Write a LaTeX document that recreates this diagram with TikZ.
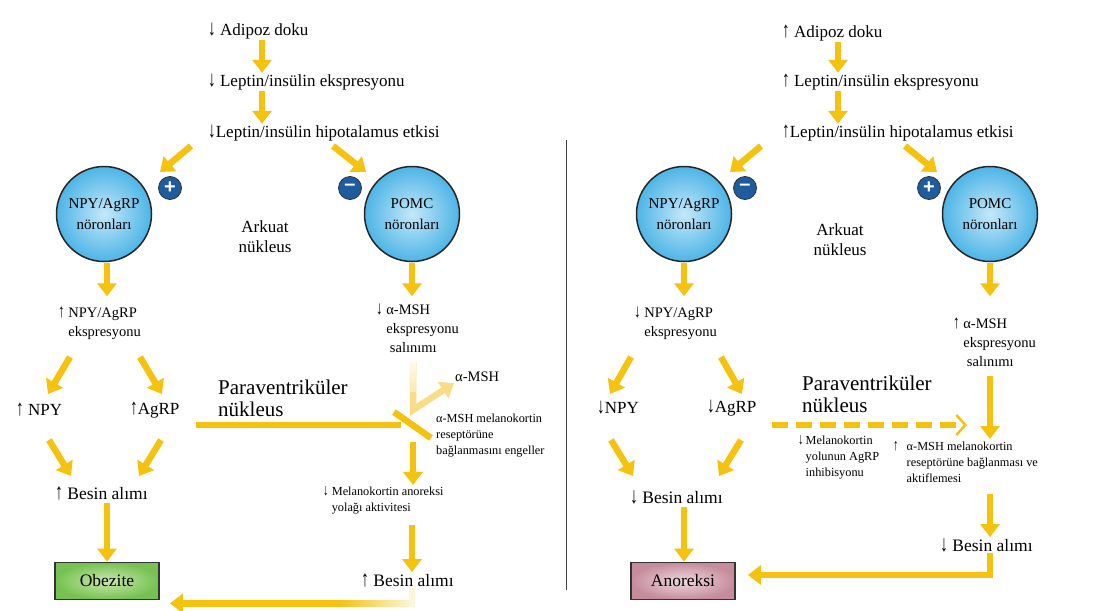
\documentclass[tikz,border=0pt]{standalone}
\usepackage{fontspec}
\setmainfont{Liberation Serif}
\newfontfamily\signfont{Liberation Sans}
\usetikzlibrary{arrows.meta,calc}
\definecolor{ylw}{HTML}{F4C20F}
\definecolor{ylwl}{HTML}{F8DC86}
\definecolor{dblue}{HTML}{1E5C9E}
\definecolor{cin}{HTML}{C4E8FA}
\definecolor{cout}{HTML}{4DB5E6}
\definecolor{gin}{HTML}{CBE8AC}
\definecolor{gout}{HTML}{76C152}
\definecolor{pin}{HTML}{EED8DE}
\definecolor{pout}{HTML}{C68C9C}
\newcommand{\dnA}{\scalebox{0.9}[1.3]{↓}}
\newcommand{\upA}{\scalebox{0.9}[1.3]{↑}}
\begin{document}
\begin{tikzpicture}[x=1pt,y=-1pt,
  txt/.style={font=\fontsize{17}{20}\selectfont, inner sep=1pt, anchor=west, align=left},
  btxt/.style={font=\fontsize{17.5}{21}\selectfont, inner sep=1pt, anchor=west, align=left},
  ptxt/.style={font=\fontsize{21}{22}\selectfont, inner sep=1pt, anchor=west, align=left},
  mtxt/.style={font=\fontsize{14.5}{19}\selectfont, inner sep=1pt, anchor=west, align=left},
  stxt/.style={font=\fontsize{12.3}{16}\selectfont, inner sep=1pt, anchor=north west, align=left},
  ya/.style={draw=ylw, line width=6.5pt, -{Triangle[width=19pt,length=13pt]}},
  yline/.style={draw=ylw, line width=6.5pt},
  neuron/.style={circle, draw=black!85, line width=1.5pt, minimum size=95pt, inner color=cin, outer color=cout, font=\fontsize{15}{21}\selectfont, align=center},
  sign/.style={circle, draw=black!80, line width=0.8pt, fill=dblue, minimum size=23pt, inner sep=0pt, text=white, font=\signfont\bfseries\fontsize{20}{20}\selectfont},
  outbox/.style={draw=black!80, line width=1.8pt, minimum width=104pt, minimum height=37pt, font=\fontsize{17.5}{20}\selectfont},
]
\useasboundingbox (0,0) rectangle (1099,610);
\fill[white] (0,0) rectangle (1099,610);

% ---------------- LEFT PANEL ----------------
\node[txt] (adL) at (207,31) {\dnA\ Adipoz doku};
\node[txt] (lepL) at (207,82) {\dnA\ Leptin/insülin ekspresyonu};
\node[txt] (hypL) at (207,133) {\dnA Leptin/insülin hipotalamus etkisi};
\coordinate (cxL) at (262,0);
\draw[ya] (adL.south -| cxL) -- (lepL.north -| cxL);
\draw[ya] (lepL.south -| cxL) -- (hypL.north -| cxL);

\node[neuron] (npyL) at (104,214) {NPY/AgRP\\nöronları};
\node[neuron] (pomcL) at (412,214) {POMC\\nöronları};
\node[sign] (plusL) at (170,188) {+};
\node[sign] (minusL) at (350,188) {\raisebox{1pt}{–}};
\node[txt, anchor=center, align=center] (arkL) at (265,237) {Arkuat\\nükleus};

\coordinate (hl1) at (191,146);
\coordinate (hl2) at (160,172);
\coordinate (hr1) at (333,146);
\coordinate (hr2) at (366,172);
\draw[ya] (hl1) -- (hl2);
\draw[ya] (hr1) -- (hr2);

\node[mtxt] (npyexL) at (57,323) {\upA\ NPY/AgRP\\\phantom{\upA\ }ekspresyonu};
\node[mtxt] (msL) at (375,328) {\dnA\ α-MSH\\\phantom{\dnA\ }ekspresyonu\\\phantom{\dnA\ } salınımı};
\coordinate (cnL) at (107,0);
\coordinate (cpL) at (412,0);
\draw[ya] ([yshift=-1pt]npyL.south -| cnL) -- ([yshift=-34pt]npyL.south -| cnL);
\draw[ya] ([yshift=-1pt]pomcL.south -| cpL) -- ([yshift=-34pt]pomcL.south -| cpL);

\node[txt] (npyL2) at (15,410) {\upA\ NPY};
\node[txt] (agrpL) at (129,410) {\upA AgRP};
\coordinate (a1) at (70,357); \coordinate (a2) at (48,394);
\coordinate (a3) at (140,357); \coordinate (a4) at (162,394);
\draw[ya] (a1) -- (a2);
\draw[ya] (a3) -- (a4);

\node[ptxt] (pvnL) at (217,398) {Paraventriküler\\nükleus};
\node[mtxt] (amshL) at (454,377) {α-MSH};
\node[stxt] (engL) at (435,413) {α-MSH melanokortin\\reseptörüne\\bağlanmasını engeller};

\coordinate (bar1) at (394,412);
\coordinate (bar2) at (431,438);
\coordinate (pv0) at (196,425);
\coordinate (pv1) at (401,425);
\draw[yline] (pv0) -- (pv1);
\draw[yline, line cap=butt] (bar1) -- (bar2);
\coordinate (f0) at (413,362);
\coordinate (f1) at (413,410);
\draw[draw=ylwl, line width=6.5pt, -{Triangle[width=19pt,length=13pt]}, line join=miter] (f0) -- (f1) -- (amshL.south west);
% lighter top of the faded stem
\foreach \i in {0,...,9} {
  \pgfmathtruncatemacro\p{18+\i*5}
  \draw[draw=ylwl!\p!white, line width=6.6pt, line cap=butt] ($(f0)+(0,{\i*3})$) -- ($(f0)+(0,{\i*3+3.4})$);
}

\node[stxt, anchor=west] (melL) at (322,500) {\dnA\ Melanokortin anoreksi\\\phantom{\dnA\ }yolağı aktivitesi};
\coordinate (m0) at (413,442);
\draw[ya] (m0) -- (melL.north -| m0);

\node[btxt] (besL) at (54,493) {\upA\ Besin alımı};
\coordinate (b1) at (49,440); \coordinate (b2) at (71,476);
\coordinate (b3) at (161,440); \coordinate (b4) at (139,476);
\draw[ya] (b1) -- (b2);
\draw[ya] (b3) -- (b4);

\node[btxt] (bes2L) at (360,580) {\upA\ Besin alımı};
\draw[ya] ([yshift=-10pt]melL.south -| cpL) -- (bes2L.north -| cpL);

\node[outbox, inner color=gin, outer color=gout] (obez) at (107,581) {};
\node[font=\fontsize{17.5}{20}\selectfont] at (obez) {Obezite};
\draw[ya] ([yshift=-2pt]besL.south -| cnL) -- (obez.north -| cnL);
\coordinate (tgtL) at ([xshift=10pt,yshift=-3pt]obez.south east);
\coordinate (cornL) at (cpL |- tgtL);
\draw[ya] (bes2L.south -| cpL) |- (tgtL);
% fade of the connector towards its start
\draw[draw=ylw!15!white, line width=6.7pt, line cap=butt] (bes2L.south -| cpL) -- ($(cornL)+(0,3.3)$);
\foreach \i in {0,...,24} {
  \pgfmathtruncatemacro\p{15+\i*3.5}
  \draw[draw=ylw!\p!white, line width=6.7pt, line cap=butt] ($(cornL)+({3.3-3*\i},0)$) -- ($(cornL)+({-0.1-3*\i},0)$);
}

% divider
\coordinate (d0) at (566,140);
\coordinate (d1) at (566,590);
\draw[black!75, line width=1pt] (d0) -- (d1);

% ---------------- RIGHT PANEL ----------------
\node[txt] (adR) at (781,33) {\upA\ Adipoz doku};
\node[txt] (lepR) at (781,82) {\upA\ Leptin/insülin ekspresyonu};
\node[txt] (hypR) at (781,133) {\upA Leptin/insülin hipotalamus etkisi};
\coordinate (cxR) at (838,0);
\draw[ya] (adR.south -| cxR) -- (lepR.north -| cxR);
\draw[ya] (lepR.south -| cxR) -- (hypR.north -| cxR);

\node[neuron] (npyR) at (684,214) {NPY/AgRP\\nöronları};
\node[neuron] (pomcR) at (990,214) {POMC\\nöronları};
\node[sign] (minusR) at (745,188) {\raisebox{1pt}{–}};
\node[sign] (plusR) at (929,188) {+};
\node[txt, anchor=center, align=center] (arkR) at (840,240) {Arkuat\\nükleus};

\coordinate (rl1) at (761,146);
\coordinate (rl2) at (730,172);
\coordinate (rr1) at (905,146);
\coordinate (rr2) at (937,172);
\draw[ya] (rl1) -- (rl2);
\draw[ya] (rr1) -- (rr2);

\node[mtxt] (npyexR) at (633,323) {\dnA\ NPY/AgRP\\\phantom{\dnA\ }ekspresyonu};
\node[mtxt] (msR) at (952,342) {\upA\ α-MSH\\\phantom{\upA\ }ekspresyonu\\\phantom{\upA\ } salınımı};
\coordinate (cnR) at (684,0);
\coordinate (cpR) at (990,0);
\draw[ya] ([yshift=-1pt]npyR.south -| cnR) -- ([yshift=-34pt]npyR.south -| cnR);
\draw[ya] ([yshift=-1pt]pomcR.south -| cpR) -- ([yshift=-34pt]pomcR.south -| cpR);

\node[txt] (npyR2) at (596,408) {\dnA NPY};
\node[txt] (agrpR) at (706,408) {\dnA AgRP};
\coordinate (c1) at (631,357); \coordinate (c2) at (610,394);
\coordinate (c3) at (721,357); \coordinate (c4) at (742,394);
\draw[ya] (c1) -- (c2);
\draw[ya] (c3) -- (c4);

\node[ptxt] (pvnR) at (801,394) {Paraventriküler\\nükleus};
\coordinate (dsh0) at (772,425);
\coordinate (dsh1) at (967,425);
\draw[draw=ylw, line width=6.5pt, dash pattern=on 16pt off 8pt, -{Straight Barb[line width=2.5pt, length=9pt, width=20pt]}] (dsh0) -- (dsh1);

\node[stxt] (melR) at (797,432) {\begin{tabular}{@{}l@{\hspace{2pt}}l@{}}\dnA & Melanokortin\\ & yolunun AgRP\\ & inhibisyonu\end{tabular}};
\node[stxt] (actR) at (892,438) {\begin{tabular}{@{}l@{\hspace{8pt}}l@{}}\upA & α-MSH melanokortin\\ & reseptörüne bağlanması ve\\ & aktiflemesi\end{tabular}};
\draw[ya] ([yshift=-8pt]msR.south -| cpR) -- ([yshift=-1pt]actR.north -| cpR);

\node[btxt] (besR) at (629,497) {\dnA\ Besin alımı};
\coordinate (e1) at (611,440); \coordinate (e2) at (633,476);
\coordinate (e3) at (741,440); \coordinate (e4) at (719,476);
\draw[ya] (e1) -- (e2);
\draw[ya] (e3) -- (e4);

\node[outbox, inner color=pin, outer color=pout] (anor) at (683,581) {};
\node[font=\fontsize{17.5}{20}\selectfont] at (anor) {Anoreksi};
\draw[ya] ([yshift=-2pt]besR.south -| cnR) -- (anor.north -| cnR);

\node[btxt] (besR2) at (939,545) {\dnA\ Besin alımı};
\draw[ya] ([yshift=-6pt]actR.south -| cpR) -- (besR2.north -| cpR);
\draw[draw=ylw, line width=6.5pt, -{Triangle[width=19pt,length=13pt]}] (besR2.south -| cpR) |- ([xshift=12pt,yshift=6pt]anor.east);
\end{tikzpicture}
\end{document}
